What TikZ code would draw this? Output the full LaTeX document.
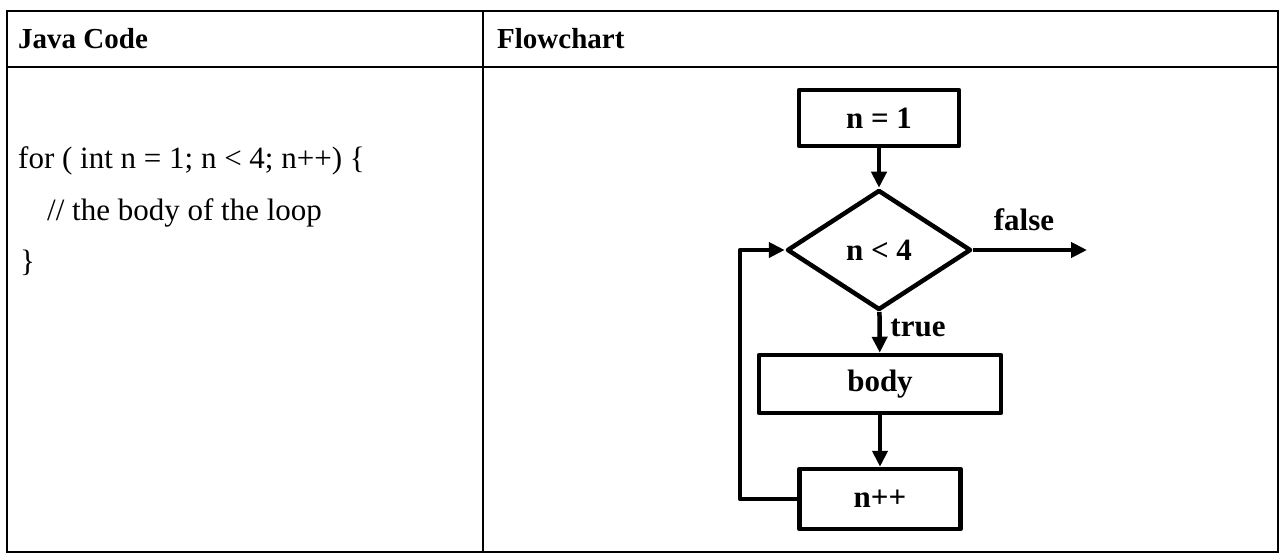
\documentclass[tikz,border=0pt]{standalone}
\usepackage{fontspec}
\setmainfont{Liberation Serif}
\usetikzlibrary{shapes.geometric,arrows.meta}
\begin{document}
\begin{tikzpicture}[x=1pt,y=-1pt,
  every node/.style={font=\fontsize{31}{37}\selectfont},
  rule/.style={line width=2.2pt},
  flowline/.style={line width=4.5pt,line join=round},
  arrow/.style={flowline,-{Triangle[length=16pt,width=15pt]}},
  stepbox/.style={draw,flowline,rectangle,inner sep=0pt,font=\fontsize{31}{37}\selectfont\bfseries},
  decision/.style={draw,flowline,diamond,inner sep=0pt,font=\fontsize{31}{37}\selectfont\bfseries},
  tag/.style={font=\fontsize{31}{37}\selectfont\bfseries},
  headtext/.style={font=\fontsize{29}{35}\selectfont\bfseries,anchor=base west,inner sep=0pt}]
\useasboundingbox (0,0) rectangle (1285,559);
% table frame
\draw[rule] (7,11) rectangle (1278,552);
\draw[rule] (7,67) -- (1278,67);
\draw[rule] (483,11) -- (483,552);
% headers
\node[headtext] (h1) at (18,49) {Java Code};
\node[headtext] (h2) at (497,49) {Flowchart};
% code
\node[anchor=base west,inner sep=0pt] (c1) at (18,168) {for ( int n = 1; n < 4; n++) \{};
\node[anchor=base west,inner sep=0pt] (c2) at (47,220) {// the body of the loop};
\node[anchor=base west,inner sep=0pt] (c3) at (20,271) {\}};
% flowchart
\node[stepbox,minimum width=160pt,minimum height=56pt] (init) at (879,118) {n = 1};
\node[decision,minimum width=184pt,minimum height=120pt] (test) at (879,250) {n < 4};
\node[stepbox,minimum width=242pt,minimum height=58pt] (body) at (880,384) {body};
\node[stepbox,minimum width=161pt,minimum height=60pt] (incr) at (880,499) {n++};
\coordinate (exit) at (1087,250);
\coordinate (back) at (740,0);
\draw[arrow] (init) -- (test);
\draw[arrow] (test) -- (body);
\draw[arrow] (body) -- (incr);
\draw[arrow] (test.east) -- (exit);
\draw[arrow] (incr.west) -- (incr.west -| back) -- (test.west -| back) -- (test.west);
\node[tag] (lf) at (1024,220) {false};
\node[tag] (lt) at (918,328) {true};
\end{tikzpicture}
\end{document}
